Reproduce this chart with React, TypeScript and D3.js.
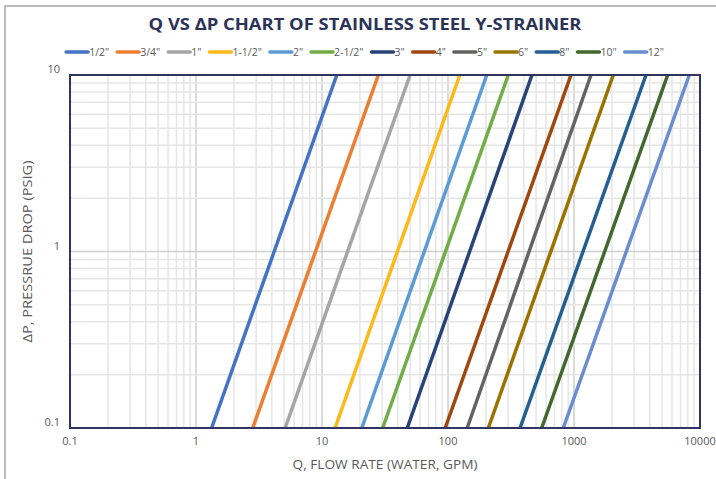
import React, { useEffect, useRef } from "react";
import * as d3 from "d3";

// pipe sizes and the flow (GPM) at which each line crosses 0.1 psi and 10 psi
const sizes = ['1/2"', '3/4"', '1"', '1-1/2"', '2"', '2-1/2"', '3"', '4"', '5"', '6"', '8"', '10"', '12"'];
const flowAtLow = [1.33, 2.82, 5.1, 12.7, 20.7, 30.3, 47.5, 95, 142, 209, 373, 554, 822];
const flowAtHigh = [13.1, 28, 50, 124, 203, 301, 464, 946, 1364, 2050, 3727, 5540, 8225];
const dpRange = [0.1, 10];

const colors = [
  "#4472C4", "#ED7D31", "#A5A5A5", "#FBB91A", "#5B9BD5", "#70AD47",
  "#264478", "#9E480E", "#636363", "#997300", "#255E91", "#43682B", "#698ED0",
];

const xTicks = [0.1, 1, 10, 100, 1000, 10000];
const yTicks = [0.1, 1, 10];

const W = 716;
const H = 479;
const margin = { top: 75, right: 16, bottom: 51, left: 70 };
const font = "'Liberation Sans Narrow', 'Open Sans', sans-serif";

export default function App() {
  const ref = useRef<SVGSVGElement>(null);

  useEffect(() => {
    const svg = d3.select(ref.current);
    svg.selectAll("*").remove();

    const iw = W - margin.left - margin.right;
    const ih = H - margin.top - margin.bottom;

    const x = d3.scaleLog().domain([0.1, 10000]).range([0, iw]);
    const y = d3.scaleLog().domain([0.1, 10]).range([ih, 0]);

    // outer chart frame
    svg.append("rect")
      .attr("x", 5).attr("y", 6).attr("width", W).attr("height", H)
      .attr("fill", "#fff").attr("stroke", "#a6a6a6").attr("stroke-width", 1.5);

    svg.append("text")
      .attr("x", 365).attr("y", 30)
      .attr("text-anchor", "middle")
      .attr("font-family", "'Open Sans', sans-serif")
      .attr("font-weight", 700).attr("font-size", 16.5)
      .attr("fill", "#2c3358")
      .attr("textLength", 433).attr("lengthAdjust", "spacingAndGlyphs")
      .text("Q VS ΔP CHART OF STAINLESS STEEL Y-STRAINER");

    const g = svg.append("g").attr("transform", `translate(${margin.left},${margin.top})`);

    // gridlines
    const xMinor: number[] = [];
    for (let e = -1; e < 4; e++) for (let m = 1; m < 10; m++) xMinor.push(m * Math.pow(10, e));
    xMinor.push(10000);
    const yMinor: number[] = [];
    for (let e = -1; e < 1; e++) for (let m = 1; m < 10; m++) yMinor.push(m * Math.pow(10, e));
    yMinor.push(10);

    const isMajor = (v: number) => Math.abs(Math.log10(v) - Math.round(Math.log10(v))) < 1e-6;

    g.selectAll(".vg").data(xMinor).enter().append("line")
      .attr("x1", (d) => x(d)).attr("x2", (d) => x(d))
      .attr("y1", 0).attr("y2", ih)
      .attr("stroke", (d) => (isMajor(d) ? "#cfcfcf" : "#e6e6e6"))
      .attr("stroke-width", 1.5);

    g.selectAll(".hg").data(yMinor).enter().append("line")
      .attr("y1", (d) => y(d)).attr("y2", (d) => y(d))
      .attr("x1", 0).attr("x2", iw)
      .attr("stroke", (d) => (isMajor(d) ? "#cfcfcf" : "#e6e6e6"))
      .attr("stroke-width", 1.5);

    // series
    const line = d3.line<[number, number]>().x((d) => x(d[0])).y((d) => y(d[1]));
    sizes.forEach((s, i) => {
      g.append("path")
        .datum([[flowAtLow[i], dpRange[0]], [flowAtHigh[i], dpRange[1]]] as [number, number][])
        .attr("d", line)
        .attr("fill", "none")
        .attr("stroke", colors[i])
        .attr("stroke-width", 3.5);
    });

    // plot border
    g.append("rect")
      .attr("width", iw).attr("height", ih)
      .attr("fill", "none").attr("stroke", "#2f3560").attr("stroke-width", 2);

    // tick labels
    g.selectAll(".xt").data(xTicks).enter().append("text")
      .attr("x", (d) => x(d)).attr("y", ih + 17)
      .attr("text-anchor", "middle")
      .attr("font-family", font).attr("font-size", 11).attr("fill", "#595959")
      .text((d) => String(d));

    g.selectAll(".yt").data(yTicks).enter().append("text")
      .attr("x", -10).attr("y", (d) => y(d) - 2)
      .attr("text-anchor", "end")
      .attr("font-family", font).attr("font-size", 11).attr("fill", "#595959")
      .text((d) => String(d));

    // axis titles
    svg.append("text")
      .attr("x", margin.left + iw / 2).attr("y", 469)
      .attr("text-anchor", "middle")
      .attr("font-family", font).attr("font-size", 13.5).attr("fill", "#595959")
      .attr("textLength", 185).attr("lengthAdjust", "spacingAndGlyphs")
      .text("Q, FLOW RATE (WATER, GPM)");

    svg.append("text")
      .attr("transform", `translate(32,${margin.top + ih / 2}) rotate(-90)`)
      .attr("text-anchor", "middle")
      .attr("font-family", font).attr("font-size", 13.5).attr("fill", "#595959")
      .attr("textLength", 182).attr("lengthAdjust", "spacingAndGlyphs")
      .text("ΔP, PRESSRUE DROP (PSIG)");

    // legend
    const lg = svg.append("g").attr("transform", "translate(0,52)");
    const items = lg.selectAll("g").data(sizes).enter().append("g");
    items.append("line")
      .attr("x1", 0).attr("x2", 22).attr("y1", 0).attr("y2", 0)
      .attr("stroke", (_, i) => colors[i]).attr("stroke-width", 3.5)
      .attr("stroke-linecap", "round");
    items.append("text")
      .attr("x", 23).attr("y", 4)
      .attr("font-family", font).attr("font-size", 10.5).attr("fill", "#595959")
      .text((d) => d);

    const widths: number[] = [];
    items.select("text").each(function () {
      widths.push(23 + (this as SVGTextElement).getComputedTextLength());
    });
    const gap = 8;
    const total = d3.sum(widths) + gap * (widths.length - 1);
    let cx = 365 - total / 2;
    items.attr("transform", (_, i) => {
      const t = `translate(${cx},0)`;
      cx += widths[i] + gap;
      return t;
    });
  }, []);

  return (
    <svg
      ref={ref}
      width={W}
      height={H}
      style={{ position: "absolute", left: 0, top: 0, background: "#fff" }}
    />
  );
}
